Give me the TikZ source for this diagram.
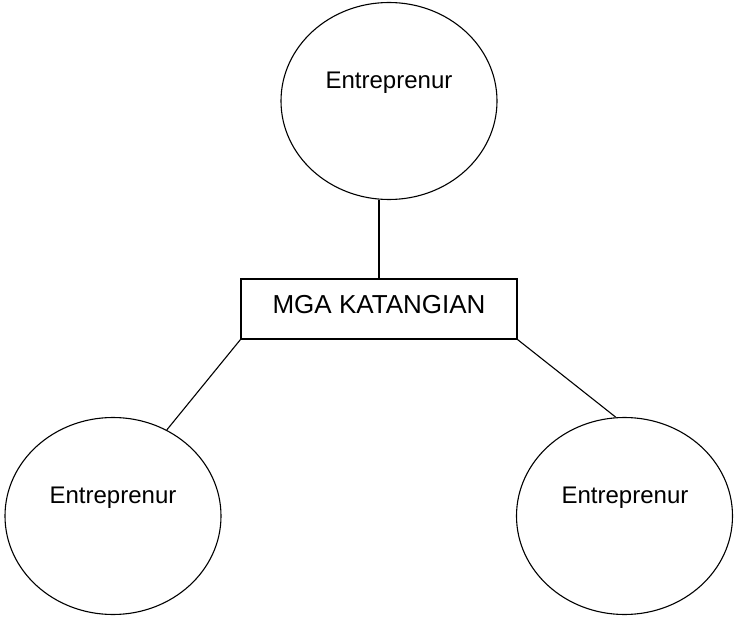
\documentclass[tikz,border=0pt]{standalone}
\usepackage{fontspec}
\setmainfont{Liberation Sans}
\usetikzlibrary{shapes.geometric}
\begin{document}
\begin{tikzpicture}[x=1pt,y=-1pt,
  bubble/.style={draw=black,line width=1.1pt,ellipse,inner sep=0pt,
    minimum width=216pt,minimum height=197pt},
  titlebox/.style={draw=black,line width=1.1pt,rectangle,inner sep=0pt,
    minimum width=276pt,minimum height=60pt},
  bubbletext/.style={anchor=base,inner sep=0pt,font=\fontsize{24}{28}\selectfont},
  boxtext/.style={anchor=base,inner sep=0pt,font=\fontsize{26}{30}\selectfont},
  link/.style={draw=black,line width=1.1pt}]
\useasboundingbox (0,0) rectangle (736,617);
\fill[white] (0,0) rectangle (736,617);
\node[bubble] (top) at (389,101) {};
\node[bubble] (bl) at (113,516) {};
\node[bubble] (br) at (624.5,516) {};
\node[titlebox] (box) at (379,309) {};
\node[bubbletext] (ttop) at (389,89) {Entreprenur};
\node[bubbletext] (tbl) at (113,503) {Entreprenur};
\node[bubbletext] (tbr) at (625,503) {Entreprenur};
\node[boxtext] (tbox) at (379,314) {MGA KATANGIAN};
\draw[link] (box.north) -- (box.north |- top.south);
\draw[link] (box.south west) -- (bl.58);
\draw[link] (box.south east) -- (br.95.5);
\end{tikzpicture}
\end{document}
